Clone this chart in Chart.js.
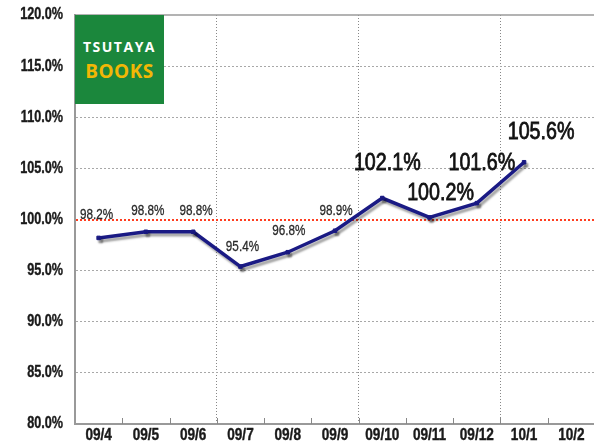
<!DOCTYPE html>
<html>
<head>
<meta charset="utf-8">
<script src="https://cdn.jsdelivr.net/npm/chart.js@4/dist/chart.umd.min.js"></script>
<style>
  html, body { margin: 0; padding: 0; background: #fff; overflow: hidden; }
  #wrap { position: relative; width: 594px; height: 447px; overflow: hidden; }
  #logo {
    position: absolute; left: 75px; top: 15px; width: 89px; height: 89px;
    background: #1b873c; font-family: 'Open Sans', 'DejaVu Sans', sans-serif;
    font-weight: bold; text-align: center;
  }
  #logo .t1 { position: absolute; left: 0; right: 0; top: 24px; color: #fff; font-size: 14px; letter-spacing: 1.5px; line-height: 16px; }
  #logo .t2 { position: absolute; left: 0; right: 0; top: 45px; color: #f2b705; font-size: 19px; letter-spacing: 0.5px; line-height: 22px; }
</style>
</head>
<body>
<div id="wrap">
  <canvas id="chart" width="600" height="447"></canvas>
  <div id="logo"><div class="t1">TSUTAYA</div><div class="t2">BOOKS</div></div>
</div>
<script>
// data
const categories = ['09/4', '09/5', '09/6', '09/7', '09/8', '09/9', '09/10', '09/11', '09/12', '10/1', '10/2'];
const ratios = [98.2, 98.8, 98.8, 95.4, 96.8, 98.9, 102.1, 100.2, 101.6, 105.6, null];
const yTicks = [80, 85, 90, 95, 100, 105, 110, 115, 120];

const FONT = "'Liberation Sans', Arial, sans-serif";
const NAVY = '#1a1a84';

// small label nudges (px) for each point label, and which ones are drawn large
const labelNudge = [[-2, -23], [2, -21], [3, -21], [2, -20], [1, -21], [1, -20], [5, -35], [11, -24], [5, -40], [17, -30]];
const bigFrom = 6;

// the reference uses a narrow face; squeeze a normal one horizontally
function narrowText(ctx, text, x, y, align, font, color, sx, stroke) {
  ctx.save();
  ctx.translate(x, y);
  ctx.scale(sx, 1);
  ctx.font = font;
  ctx.fillStyle = color;
  ctx.textAlign = align;
  ctx.textBaseline = 'middle';
  ctx.fillText(text, 0, 0);
  if (stroke) {
    ctx.strokeStyle = color;
    ctx.lineWidth = stroke;
    ctx.strokeText(text, 0, 0);
  }
  ctx.restore();
}

const shadowPlugin = {
  id: 'lineShadow',
  beforeDatasetDraw(chart) {
    const ctx = chart.ctx;
    ctx.save();
    ctx.shadowColor = 'rgba(0,0,0,0.35)';
    ctx.shadowOffsetX = 2;
    ctx.shadowOffsetY = 3;
    ctx.shadowBlur = 2;
  },
  afterDatasetDraw(chart) {
    chart.ctx.restore();
  }
};

const framePlugin = {
  id: 'frame',
  beforeDatasetsDraw(chart) {
    const { ctx, chartArea, scales } = chart;
    ctx.save();
    // top border
    ctx.strokeStyle = '#9a9a9a';
    ctx.lineWidth = 1.5;
    ctx.beginPath();
    ctx.moveTo(chartArea.left, chartArea.top);
    ctx.lineTo(chartArea.right, chartArea.top);
    ctx.stroke();
    // small inward tick marks on the x axis
    ctx.lineWidth = 1;
    ctx.strokeStyle = '#888';
    for (let i = 1; i <= categories.length; i++) {
      const x = Math.round(scales.x.getPixelForValue(i - 0.5)) + 0.5;
      ctx.beginPath();
      ctx.moveTo(x, chartArea.bottom);
      ctx.lineTo(x, chartArea.bottom - 6);
      ctx.stroke();
    }
    ctx.restore();
  },
  afterDraw(chart) {
    const { ctx, scales, chartArea } = chart;
    scales.y.ticks.forEach((t, i) => {
      narrowText(ctx, t.value.toFixed(1) + '%', chartArea.left - 12, scales.y.getPixelForTick(i),
        'right', 'bold 16px ' + FONT, '#1a1a1a', 0.79, 0.4);
    });
    scales.x.ticks.forEach((t, i) => {
      narrowText(ctx, categories[i], scales.x.getPixelForTick(i), chartArea.bottom + 12,
        'center', 'bold 16px ' + FONT, '#1a1a1a', 0.85, 0.4);
    });
  }
};

const labelPlugin = {
  id: 'pointLabels',
  afterDatasetsDraw(chart) {
    const ctx = chart.ctx;
    const meta = chart.getDatasetMeta(0);
    ratios.forEach((v, i) => {
      if (v === null) return;
      const pt = meta.data[i];
      const big = i >= bigFrom;
      const [dx, dy] = labelNudge[i];
      narrowText(ctx, v.toFixed(1) + '%', pt.x + dx, pt.y + dy, 'center',
        big ? '24px ' + FONT : '15px ' + FONT, big ? '#111' : '#2a2a2a', big ? 0.82 : 0.78, big ? 0.8 : 0.3);
    });
  }
};

new Chart(document.getElementById('chart'), {
  type: 'line',
  data: {
    labels: categories,
    datasets: [{
      data: ratios,
      borderColor: NAVY,
      backgroundColor: NAVY,
      borderWidth: 3.5,
      tension: 0,
      pointStyle: 'rect',
      pointRadius: 2.5,
      pointBorderWidth: 1,
      pointBorderColor: NAVY,
      pointBackgroundColor: NAVY
    }]
  },
  options: {
    responsive: false,
    animation: false,
    devicePixelRatio: 1,
    layout: { padding: { top: 15, right: 3, left: 0, bottom: 0 } },
    plugins: { legend: { display: false }, tooltip: { enabled: false } },
    scales: {
      x: {
        offset: true,
        afterFit(scale) { scale.height = 23; },
        grid: {
          offset: true,
          drawTicks: false,
          color: ctx => [3, 6, 9].includes(ctx.index) ? '#888' : 'rgba(0,0,0,0)',
          lineWidth: 1
        },
        border: { display: true, color: '#999', width: 2, dash: [1, 2] },
        ticks: {
          padding: 0,
          color: 'rgba(0,0,0,0)',
          font: { family: FONT, size: 1 },
          maxRotation: 0,
          autoSkip: false
        }
      },
      y: {
        min: 80,
        max: 120,
        afterFit(scale) { scale.width = 75; },
        afterBuildTicks(scale) { scale.ticks = yTicks.map(v => ({ value: v })); },
        grid: {
          drawTicks: false,
          color: ctx => {
            const v = ctx.tick && ctx.tick.value;
            if (v === 100) return '#ff3d1f';
            if (v === 120 || v === 80) return 'rgba(0,0,0,0)';
            return '#a8a8a8';
          },
          lineWidth: ctx => (ctx.tick && ctx.tick.value === 100) ? 2 : 1
        },
        border: { display: true, color: '#999', width: 2, dash: [2, 2] },
        ticks: {
          padding: 0,
          color: 'rgba(0,0,0,0)',
          font: { family: FONT, size: 1 },
          callback: v => v.toFixed(1) + '%'
        }
      }
    }
  },
  plugins: [framePlugin, shadowPlugin, labelPlugin]
});
</script>
</body>
</html>
